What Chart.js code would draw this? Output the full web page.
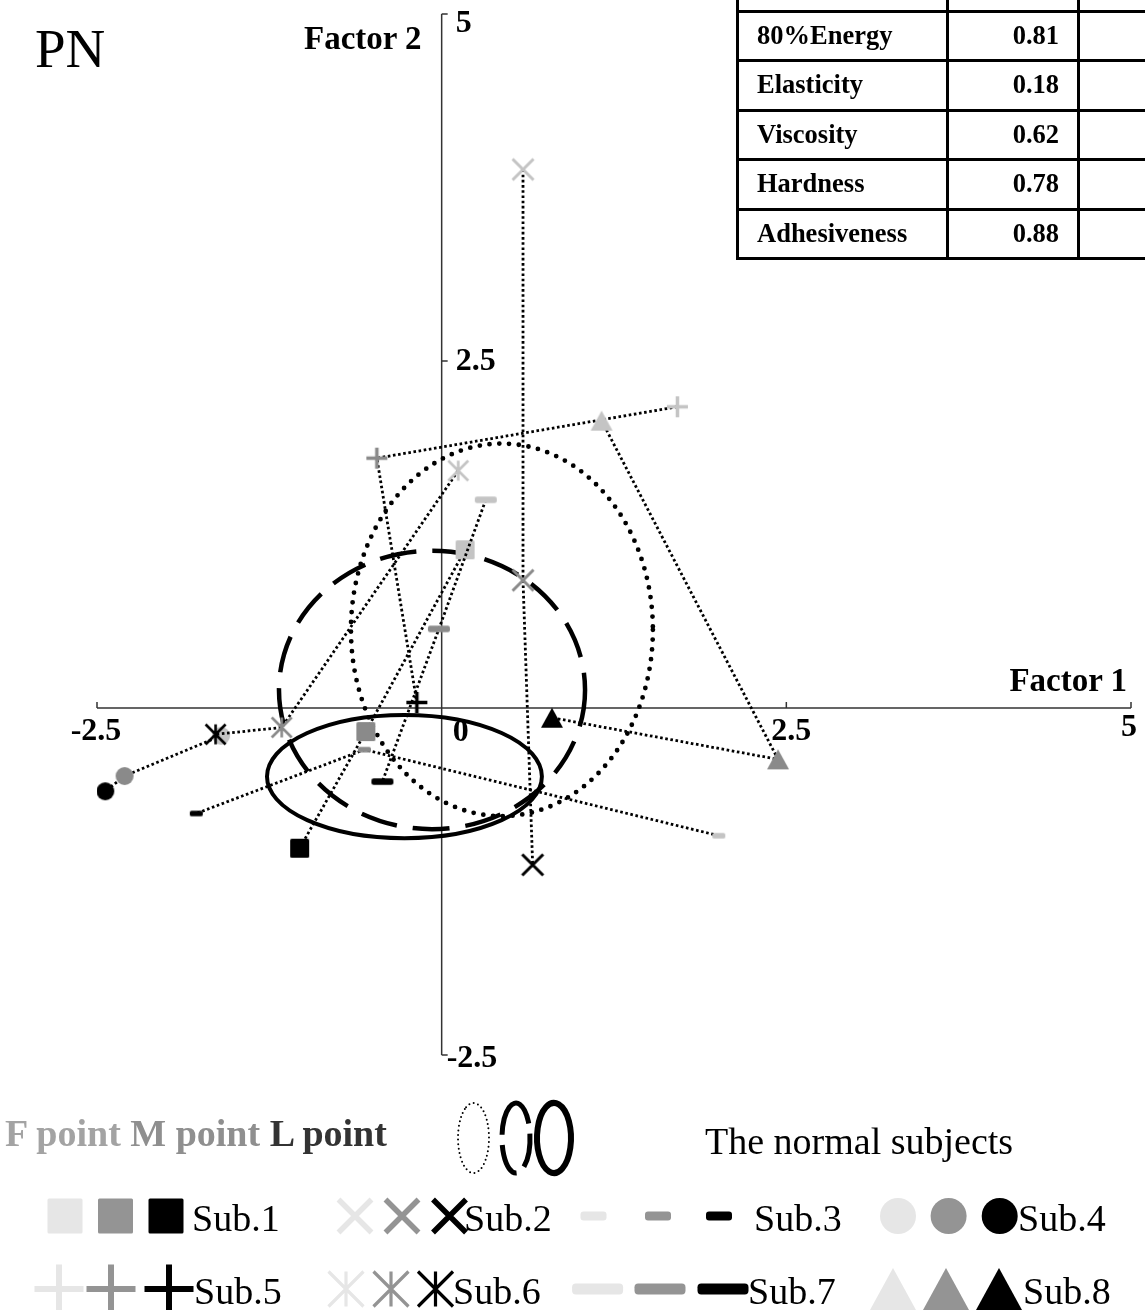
<!DOCTYPE html>
<html lang="en">
<head>
<meta charset="UTF-8">
<meta name="viewport" content="width=device-width, initial-scale=1.0">
<title>PN - factor scores</title>
<script src="https://cdn.jsdelivr.net/npm/chart.js"></script>
<style>
    body {
        margin: 0;
        width: 1145px;
        height: 1310px;
        position: relative;
        overflow: hidden;
        background: #fff;
        font-family: 'Liberation Serif', 'Times New Roman', serif;
        color: #000;
    }
    #plot { position: absolute; left: 0; top: 0; }
    .txt { position: absolute; white-space: nowrap; line-height: 1; }
    .bold { font-weight: bold; }

    #title { left: 35px; top: 21px; font-size: 55px; }
    #factor2 { left: 304px; top: 22px; font-size: 33px; }
    #factor1 { right: 18px; top: 664px; font-size: 33px; }

    #phases { left: 5px; top: 1114px; font-size: 38px; }
    #phases .f { color: #a3a3a3; }
    #phases .m { color: #8f8f8f; }
    #phases .l { color: #333; }
    #normal { left: 705px; top: 1122px; font-size: 38px; }
    .sub { font-size: 38px; }

    /* loadings table, header row sits above the page edge */
    #loadings {
        position: absolute;
        left: 736px;
        top: -40px;
        width: 472px;
        border-collapse: collapse;
        table-layout: fixed;
        font: bold 26.5px 'Liberation Serif', serif;
    }
    #loadings td {
        border: 3px solid #000;
        height: 45px;
        padding: 0 18px 1.5px;
        line-height: 1;
        vertical-align: middle;
    }
    #loadings td.num { text-align: right; }
</style>
</head>
<body>

<canvas id="plot" width="1145" height="1310"></canvas>

<div id="title" class="txt">PN</div>
<div id="factor2" class="txt bold">Factor 2</div>
<div id="factor1" class="txt bold">Factor 1</div>

<table id="loadings">
    <colgroup><col style="width:210px"><col style="width:131px"><col style="width:131px"></colgroup>
    <tbody></tbody>
</table>

<div id="phases" class="txt bold"><span class="f">F point</span> <span class="m">M point</span> <span class="l">L point</span></div>
<div id="normal" class="txt">The normal subjects</div>
<div id="legendText"></div>

<script>
// subjects and their F / M / L point scores (Factor 1 = x, Factor 2 = y)
const subjects = ['Sub.1', 'Sub.2', 'Sub.3', 'Sub.4', 'Sub.5', 'Sub.6', 'Sub.7', 'Sub.8'];
const fX = [0.17, 0.59, 2.01, -1.60, 1.71, 0.12, 0.32, 1.16];
const fY = [1.14, 3.88, -0.92, -0.20, 2.17, 1.71, 1.50, 2.07];
const mX = [-0.55, 0.59, -0.56, -2.30, -0.47, -1.16, -0.02, 2.44];
const mY = [-0.17, 0.92, -0.30, -0.49, 1.80, -0.14, 0.57, -0.37];
const lX = [-1.03, 0.66, -1.78, -2.44, -0.18, -1.64, -0.43, 0.80];
const lY = [-1.01, -1.13, -0.76, -0.60, 0.04, -0.19, -0.53, -0.07];

// normal subjects' ranges for F, M, L points (centre and half axes)
const rangeCx = [0.437, -0.070, -0.270];
const rangeCy = [0.563, 0.130, -0.494];
const rangeRx = [1.095, 1.110, 0.997];
const rangeRy = [1.342, 1.003, 0.444];

// axis ticks
const xTicks = [-2.5, 0, 2.5, 5];
const yTicks = [-2.5, 2.5, 5];

// factor loadings
const loadingNames = ['80%Energy', 'Elasticity', 'Viscosity', 'Hardness', 'Adhesiveness'];
const loadingValues = ['0.81', '0.18', '0.62', '0.78', '0.88'];

// marker look per subject
const markerKinds = ['square', 'x', 'dash', 'circle', 'plus', 'asterisk', 'bar', 'triangle'];
const plotSize = {
    square: [19, 19, 0], x: [21, 21, 3], dash: [13, 5.5, 0], circle: [18, 18, 0],
    plus: [21, 21, 3.5], asterisk: [20, 20, 2.6], bar: [22, 6.5, 0], triangle: [22, 20, 0]
};
const legendSize = {
    square: [35, 35, 0], x: [33, 33, 5.5], dash: [26, 9, 0], circle: [36, 36, 0],
    plus: [49, 49, 6], asterisk: [35, 35, 3.2], bar: [51, 11, 0], triangle: [46, 42, 0]
};
const plotColors = ['#c4c4c4', '#8a8a8a', '#000'];
const legendColors = ['#e6e6e6', '#949494', '#000'];

function paintMarker(ctx, kind, color, w, h, lw) {
    ctx.fillStyle = color;
    ctx.strokeStyle = color;
    ctx.lineWidth = lw;
    ctx.lineCap = 'butt';
    ctx.beginPath();
    switch (kind) {
        case 'square':
            ctx.roundRect(-w / 2, -h / 2, w, h, 1.5);
            ctx.fill();
            break;
        case 'x':
            ctx.moveTo(-w / 2, -h / 2); ctx.lineTo(w / 2, h / 2);
            ctx.moveTo(-w / 2, h / 2); ctx.lineTo(w / 2, -h / 2);
            ctx.stroke();
            break;
        case 'dash':
        case 'bar':
            ctx.roundRect(-w / 2, -h / 2, w, h, h / 3);
            ctx.fill();
            break;
        case 'circle':
            ctx.ellipse(0, 0, w / 2, h / 2, 0, 0, Math.PI * 2);
            ctx.fill();
            break;
        case 'plus':
            ctx.moveTo(-w / 2, 0); ctx.lineTo(w / 2, 0);
            ctx.moveTo(0, -h / 2); ctx.lineTo(0, h / 2);
            ctx.stroke();
            break;
        case 'asterisk':
            ctx.moveTo(0, -h / 2); ctx.lineTo(0, h / 2);
            ctx.moveTo(-w / 2, -h / 2); ctx.lineTo(w / 2, h / 2);
            ctx.moveTo(-w / 2, h / 2); ctx.lineTo(w / 2, -h / 2);
            ctx.stroke();
            break;
        case 'triangle':
            ctx.moveTo(0, -h / 2);
            ctx.lineTo(w / 2, h / 2);
            ctx.lineTo(-w / 2, h / 2);
            ctx.closePath();
            ctx.fill();
            break;
    }
}

// small canvases used as point styles
function markerImage(kind, color) {
    const [w, h, lw] = plotSize[kind];
    const c = document.createElement('canvas');
    c.width = Math.ceil(w + lw + 2);
    c.height = Math.ceil(h + lw + 2);
    const g = c.getContext('2d');
    g.translate(c.width / 2, c.height / 2);
    paintMarker(g, kind, color, w, h, lw);
    return c;
}

// table rows
const tbody = document.querySelector('#loadings tbody');
tbody.insertAdjacentHTML('beforeend', '<tr><td></td><td></td><td></td></tr>');
loadingNames.forEach((name, i) => {
    tbody.insertAdjacentHTML('beforeend',
        `<tr><td>${name}</td><td class="num">${loadingValues[i]}</td><td></td></tr>`);
});

// legend layout: marker centres and label positions
const legendRows = [1216, 1289];
const legendSlots = [
    { row: 0, xs: [65, 115.5, 166], label: 192 },
    { row: 0, xs: [355, 402, 449.5], label: 464 },
    { row: 0, xs: [593.5, 658, 719], label: 754 },
    { row: 0, xs: [898, 948.6, 999.7], label: 1018 },
    { row: 1, xs: [59, 111, 169], label: 194 },
    { row: 1, xs: [346, 391, 435.5], label: 453 },
    { row: 1, xs: [597.6, 660, 723], label: 748 },
    { row: 1, xs: [893, 946, 999], label: 1023 }
];
const legendText = document.getElementById('legendText');
subjects.forEach((name, i) => {
    const slot = legendSlots[i];
    const d = document.createElement('div');
    d.className = 'txt sub';
    d.textContent = name;
    d.style.left = slot.label + 'px';
    d.style.top = (legendRows[slot.row] - 17) + 'px';
    legendText.appendChild(d);
});

const axesAndRanges = {
    id: 'axesAndRanges',
    beforeDatasetsDraw(chart) {
        const { ctx, scales: { x, y } } = chart;
        const x0 = x.getPixelForValue(0);
        const y0 = y.getPixelForValue(0);
        ctx.save();

        // axes crossing at the origin
        ctx.strokeStyle = '#333';
        ctx.lineWidth = 1.5;
        ctx.beginPath();
        ctx.moveTo(x.getPixelForValue(x.min), y0);
        ctx.lineTo(x.getPixelForValue(x.max), y0);
        ctx.moveTo(x0, y.getPixelForValue(y.min));
        ctx.lineTo(x0, y.getPixelForValue(y.max));
        xTicks.forEach(v => {
            if (v === 0) return;
            const px = x.getPixelForValue(v);
            ctx.moveTo(px, y0);
            ctx.lineTo(px, y0 - 6);
        });
        yTicks.forEach(v => {
            const py = y.getPixelForValue(v);
            ctx.moveTo(x0, py);
            ctx.lineTo(x0 + 6, py);
        });
        ctx.stroke();

        // normal ranges: dotted = F, dashed = M, solid = L
        const dashes = [[0, 9.8], [37, 16], []];
        const widths = [4.8, 4.5, 4];
        rangeCx.forEach((cx, i) => {
            const px = x.getPixelForValue(cx);
            const py = y.getPixelForValue(rangeCy[i]);
            const rx = Math.abs(x.getPixelForValue(cx + rangeRx[i]) - px);
            const ry = Math.abs(y.getPixelForValue(rangeCy[i] + rangeRy[i]) - py);
            ctx.beginPath();
            ctx.setLineDash(dashes[i]);
            ctx.lineCap = i === 0 ? 'round' : 'butt';
            ctx.lineWidth = widths[i];
            ctx.strokeStyle = '#000';
            ctx.ellipse(px, py, rx, ry, 0, 0, Math.PI * 2);
            ctx.stroke();
        });
        ctx.restore();
    },
    afterDraw(chart) {
        const { ctx, scales: { x, y } } = chart;
        const x0 = x.getPixelForValue(0);
        const y0 = y.getPixelForValue(0);
        ctx.save();
        ctx.fillStyle = '#000';
        ctx.font = 'bold 32px "Liberation Serif", serif';

        // tick labels
        xTicks.forEach(v => {
            const px = x.getPixelForValue(v);
            if (v === 0) {
                ctx.textAlign = 'left';
                ctx.fillText('0', x0 + 11, y0 + 33);
            } else if (v === x.max) {
                ctx.textAlign = 'right';
                ctx.fillText(String(v), px + 6, y0 + 28);
            } else {
                ctx.textAlign = 'center';
                ctx.fillText(String(v), px + (v > 0 ? 5 : -1), y0 + 32);
            }
        });
        ctx.textAlign = 'left';
        yTicks.forEach(v => {
            const py = y.getPixelForValue(v);
            if (v === y.max) ctx.fillText(String(v), x0 + 14, py + 18);
            else if (v < 0) ctx.fillText(String(v), x0 + 5, py + 12);
            else ctx.fillText(String(v), x0 + 14, py + 9);
        });

        // legend markers
        markerKinds.forEach((kind, i) => {
            const slot = legendSlots[i];
            const [w, h, lw] = legendSize[kind];
            slot.xs.forEach((cx, j) => {
                ctx.save();
                ctx.translate(cx, legendRows[slot.row]);
                paintMarker(ctx, kind, legendColors[j], w, h, lw);
                ctx.restore();
            });
        });

        // legend range icons
        const icons = [
            { cx: 473.5, rx: 15.5, lw: 2, dash: [0, 4.5], cap: 'round' },
            { cx: 516, rx: 14, lw: 5, dash: [34, 10], cap: 'butt' },
            { cx: 554, rx: 17, lw: 6, dash: [], cap: 'butt' }
        ];
        icons.forEach(ic => {
            ctx.beginPath();
            ctx.strokeStyle = '#000';
            ctx.lineWidth = ic.lw;
            ctx.lineCap = ic.cap;
            ctx.setLineDash(ic.dash);
            ctx.ellipse(ic.cx, 1138, ic.rx, 35, 0, -Math.PI / 2 - 0.5, Math.PI * 1.5 - 0.5);
            ctx.stroke();
        });
        ctx.restore();
    }
};

const datasets = subjects.map((name, i) => ({
    label: name,
    data: [
        { x: fX[i], y: fY[i] },
        { x: mX[i], y: mY[i] },
        { x: lX[i], y: lY[i] }
    ],
    showLine: true,
    borderColor: '#000',
    borderWidth: 2.8,
    borderDash: [2.6, 2.6],
    pointStyle: plotColors.map(c => markerImage(markerKinds[i], c)),
    pointRadius: 10,
    pointHoverRadius: 10,
    order: subjects.length - i
}));

new Chart(document.getElementById('plot'), {
    type: 'scatter',
    data: { datasets },
    options: {
        responsive: false,
        devicePixelRatio: 1,
        animation: false,
        events: [],
        layout: { padding: { left: 97, right: 14, top: 14, bottom: 255 } },
        scales: {
            x: { type: 'linear', min: -2.5, max: 5, display: false },
            y: { type: 'linear', min: -2.5, max: 5, display: false }
        },
        plugins: {
            legend: { display: false },
            tooltip: { enabled: false }
        }
    },
    plugins: [axesAndRanges]
});
</script>
</body>
</html>
